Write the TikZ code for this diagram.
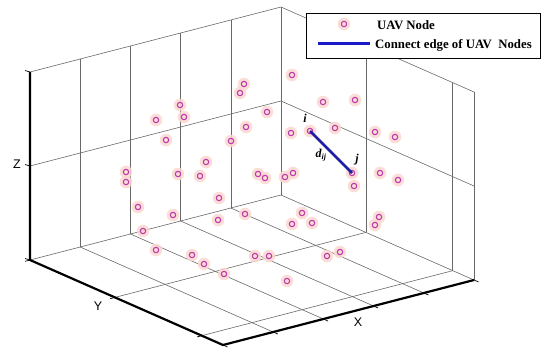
\documentclass[tikz,border=0pt]{standalone}
\usepackage{fontspec}
\setmainfont{Liberation Serif}
\setsansfont{Liberation Sans}
\usetikzlibrary{calc}
\definecolor{uavc}{RGB}{190,60,170}
\definecolor{halo}{RGB}{250,216,208}
\definecolor{gridc}{RGB}{105,105,105}
\definecolor{edgeblue}{RGB}{30,30,165}
\definecolor{legblue}{RGB}{25,25,200}
\begin{document}
\begin{tikzpicture}[x=1pt,y=-1pt,
  uav/.style={circle, inner sep=0pt, minimum size=5.4pt, draw=uavc, line width=1.1pt},
  halofill/.style={fill=halo, fill opacity=0.85},
  gridline/.style={gridc, line width=0.6pt},
  axisline/.style={black, line width=2.2pt, line join=miter},
  tickline/.style={black, line width=0.7pt},
  axlabel/.style={font=\sffamily\fontsize{12.5}{13}\selectfont, inner sep=0pt},
  legtext/.style={font=\bfseries\fontsize{12.8}{13}\selectfont, anchor=base west, inner sep=0pt},
  ijlabel/.style={font=\bfseries\itshape\fontsize{12}{12}\selectfont, inner sep=0pt}
]
\useasboundingbox (0,0) rectangle (550,357);
% box corners
\coordinate (A) at (30,260);
\coordinate (B) at (223,345);
\coordinate (C) at (474,280);
\coordinate (D) at (281,195);
\coordinate (At) at (30,72);
\coordinate (Dt) at (281,7);
\coordinate (Ct) at (474,92);
\coordinate (Am) at (30,166);
\coordinate (Dm) at (281,101);
\coordinate (Cm) at (474,186);
% walls and floor edges
\draw[gridline] (A) -- (D) -- (C);
\draw[gridline] (At) -- (Dt) -- (Ct);
\draw[gridline] (D) -- (Dt);
\draw[gridline] (C) -- (Ct);
\draw[gridline] (Am) -- (Dm) -- (Cm);
% x grid
\foreach \f in {0.2,0.4,0.6,0.8}{
  \draw[gridline] ($(A)!\f!(D)$) -- ($(At)!\f!(Dt)$);
  \draw[gridline] ($(A)!\f!(D)$) -- ($(B)!\f!(C)$);
}
% y grid
\foreach \t in {0.44,0.89}{
  \draw[gridline] ($(D)!\t!(C)$) -- ($(Dt)!\t!(Ct)$);
  \draw[gridline] ($(A)!\t!(B)$) -- ($(D)!\t!(C)$);
  \draw[tickline] ($(A)!\t!(B)$) -- ++(-4.8,1.3);
}
\draw[tickline] (A) -- ++(-4.8,1.3);
% x ticks
\foreach \f in {0,0.2,0.4,0.6,0.8,1}{
  \draw[tickline] ($(B)!\f!(C)$) -- ++(4.6,2.0);
}
% z ticks
\draw[tickline] (At) -- ++(-5,-1.5);
\draw[tickline] (Am) -- ++(-5,-1.5);
\draw[tickline] (A) -- ++(-5,-1.5);
% axes
\draw[axisline] (At) -- (A) -- (B) -- (C);
% axis labels
\node[axlabel] (zl) at (17,164) {Z};
\node[axlabel] (yl) at (98,306) {Y};
\node[axlabel] (xl) at (358,322) {X};
% halos
\foreach \x/\y in {292/75,244/84,240/93,180/105,323/102,355/100,156/120,184/117,267/112,246/127,231/141,166/140,291/133,335/128,375/132,395/137,206/162,126/172,126/182,178/174,200/176,258/174,265/178,285/177,293/173,380/173,398/180,354/186,219/198,138/207,173/215,218/220,245/214,302/213,292/224,312/223,379/217,375/225,143/231,156/250,192/255,204/264,224/274,255/256,269/256,327/256,340/252,287/281,310/131,352/173}{
  \fill[halofill] (\x,\y) circle (6.3pt);
}
% UAV nodes
\foreach \x/\y [count=\k] in {292/75,244/84,240/93,180/105,323/102,355/100,156/120,184/117,267/112,246/127,231/141,166/140,291/133,335/128,375/132,395/137,206/162,126/172,126/182,178/174,200/176,258/174,265/178,285/177,293/173,380/173,398/180,354/186,219/198,138/207,173/215,218/220,245/214,302/213,292/224,312/223,379/217,375/225,143/231,156/250,192/255,204/264,224/274,255/256,269/256,327/256,340/252,287/281}{
  \node[uav] (n\k) at (\x,\y) {};
}
\node[uav] (ni) at (310,131) {};
\node[uav] (nj) at (352,173) {};
\draw[edgeblue, line width=2.5pt] (ni.center) -- (nj.center);
\node[ijlabel] (li) at (305,118) {i};
\node[ijlabel] (lj) at (357,160) {j};
\node[ijlabel] (ld) at (321,155) {d\textsubscript{ij}};
% legend
\node[draw=black, line width=1pt, fill=white, minimum width=234pt, minimum height=45pt, anchor=north west, inner sep=0pt] (leg) at (306,13) {};
\fill[halofill] (344,24) circle (6.3pt);
\node[uav] (legm) at (344,24) {};
\node[legtext] (legt1) at (377,29.3) {UAV Node};
\coordinate (l1) at (318,43);
\coordinate (l2) at (370,43);
\draw[legblue, line width=3pt] (l1) -- (l2);
\node[legtext] (legt2) at (375,48) {Connect edge of UAV~ Nodes};
\end{tikzpicture}
\end{document}
